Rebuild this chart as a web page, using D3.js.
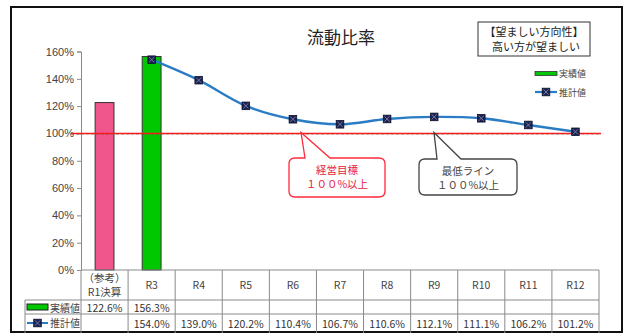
<!DOCTYPE html>
<html>
<head>
<meta charset="utf-8">
<script src="https://cdn.jsdelivr.net/npm/d3@7"></script>
<style>
  html, body { margin: 0; padding: 0; background: #fff; }
  svg { display: block; font-family: "Noto Sans CJK JP", "Noto Sans", sans-serif; }
</style>
</head>
<body>
<svg id="chart" width="629" height="334"></svg>
<script>
// 流動比率：実績値と推計値
const categories = ["（参考）\nR1決算", "R3", "R4", "R5", "R6", "R7", "R8", "R9", "R10", "R11", "R12"];
const actualValues = [122.6, 156.3, null, null, null, null, null, null, null, null, null];
const estimateValues = [null, 154.0, 139.0, 120.2, 110.4, 106.7, 110.6, 112.1, 111.1, 106.2, 101.2];
const actualColors = ["#f0568c", "#00c800"];
const yTicks = [0, 20, 40, 60, 80, 100, 120, 140, 160];
const targetValue = 100;
const seriesNames = ["実績値", "推計値"];

const svg = d3.select("#chart");

// outer frame
svg.append("rect")
  .attr("x", 11).attr("y", 7).attr("width", 611).attr("height", 325)
  .attr("fill", "#fff").attr("stroke", "#111").attr("stroke-width", 2);

const plotLeft = 81, plotRight = 599, plotTop = 51.5, plotBottom = 270;

const x = d3.scaleBand().domain(categories).range([plotLeft, plotRight]).paddingInner(0).paddingOuter(0);
const y = d3.scaleLinear().domain([0, 160]).range([plotBottom, plotTop]);

// y axis
const yAxis = d3.axisLeft(y).tickValues(yTicks).tickFormat(d => d + "%").tickSize(4).tickPadding(3);
const gy = svg.append("g").attr("transform", `translate(${plotLeft},0)`).call(yAxis);
gy.select(".domain").attr("stroke", "#8a8a8a");
gy.selectAll(".tick line").attr("stroke", "#8a8a8a");
gy.selectAll(".tick text").attr("fill", "#444").attr("font-size", 11)
  .attr("font-family", "Arial, 'Liberation Sans', sans-serif");

// bars (実績値)
const barW = x.bandwidth() * 0.4;
svg.append("g").selectAll("rect")
  .data(categories.map((c, i) => ({ c, v: actualValues[i], i })).filter(d => d.v != null))
  .join("rect")
  .attr("x", d => x(d.c) + (x.bandwidth() - barW) / 2)
  .attr("y", d => y(d.v))
  .attr("width", barW)
  .attr("height", d => y(0) - y(d.v))
  .attr("fill", d => actualColors[d.i])
  .attr("stroke", "#333").attr("stroke-width", 1);

// target line
svg.append("line")
  .attr("x1", plotLeft - 10).attr("x2", plotRight + 2)
  .attr("y1", y(targetValue)).attr("y2", y(targetValue))
  .attr("stroke", "#ff1a1a").attr("stroke-width", 1.6);
svg.append("line")
  .attr("x1", plotLeft - 10).attr("x2", plotRight + 2)
  .attr("y1", y(targetValue) + 0.8).attr("y2", y(targetValue) + 0.8)
  .attr("stroke", "#555").attr("stroke-width", 0.6).attr("stroke-dasharray", "3,2").attr("opacity", 0.6);

// estimate line (推計値)
const estPts = categories.map((c, i) => ({ c, v: estimateValues[i] })).filter(d => d.v != null);
const line = d3.line().x(d => x(d.c) + x.bandwidth() / 2).y(d => y(d.v)).curve(d3.curveCatmullRom.alpha(0.5));
svg.append("path").datum(estPts)
  .attr("d", line).attr("fill", "none")
  .attr("stroke", "#2a7cc4").attr("stroke-width", 2.4);

function marker(g, cx, cy) {
  const s = 3.8;
  g.append("rect").attr("x", cx - s).attr("y", cy - s).attr("width", 2 * s).attr("height", 2 * s)
    .attr("fill", "#1c2350").attr("stroke", "#0d1230").attr("stroke-width", 0.8);
  g.append("path").attr("d", `M${cx - s + 1.2},${cy - s + 1.2}L${cx + s - 1.2},${cy + s - 1.2}M${cx + s - 1.2},${cy - s + 1.2}L${cx - s + 1.2},${cy + s - 1.2}`)
    .attr("stroke", "#7a80a8").attr("stroke-width", 0.9);
}
const mg = svg.append("g");
estPts.forEach(d => marker(mg, x(d.c) + x.bandwidth() / 2, y(d.v)));

// title
svg.append("text").attr("x", 341).attr("y", 44).attr("text-anchor", "middle")
  .attr("font-size", 17).attr("fill", "#222").text("流動比率");

// direction box
svg.append("rect").attr("x", 478).attr("y", 22).attr("width", 112).attr("height", 34)
  .attr("fill", "#fff").attr("stroke", "#333").attr("stroke-width", 1);
svg.append("text").attr("x", 534).attr("y", 36).attr("text-anchor", "middle")
  .attr("font-size", 11).attr("fill", "#222").text("【望ましい方向性】");
svg.append("text").attr("x", 536).attr("y", 51).attr("text-anchor", "middle")
  .attr("font-size", 11).attr("fill", "#222").text("高い方が望ましい");

// legend
const lg = svg.append("g").attr("font-size", 9).attr("fill", "#444");
lg.append("rect").attr("x", 535).attr("y", 71.5).attr("width", 22).attr("height", 4)
  .attr("fill", actualColors[1]).attr("stroke", "#333").attr("stroke-width", 0.8);
lg.append("text").attr("x", 559).attr("y", 77).text(seriesNames[0]);
lg.append("line").attr("x1", 535).attr("x2", 557).attr("y1", 92).attr("y2", 92)
  .attr("stroke", "#2a7cc4").attr("stroke-width", 2.2);
marker(lg, 546, 92);
lg.append("text").attr("x", 559).attr("y", 95.5).text(seriesNames[1]);

// callouts
function callout(bx, by, bw, bh, tipX, baseL, baseR, color, textColor, lines) {
  const r = 6, tipY = y(targetValue) - 1;
  const p = d3.path();
  p.moveTo(bx + r, by);
  p.lineTo(baseL, by);
  p.lineTo(tipX, tipY);
  p.lineTo(baseR, by);
  p.lineTo(bx + bw - r, by);
  p.quadraticCurveTo(bx + bw, by, bx + bw, by + r);
  p.lineTo(bx + bw, by + bh - r);
  p.quadraticCurveTo(bx + bw, by + bh, bx + bw - r, by + bh);
  p.lineTo(bx + r, by + bh);
  p.quadraticCurveTo(bx, by + bh, bx, by + bh - r);
  p.lineTo(bx, by + r);
  p.quadraticCurveTo(bx, by, bx + r, by);
  p.closePath();
  svg.append("path").attr("d", p.toString()).attr("fill", "#fff")
    .attr("stroke", color).attr("stroke-width", 1.3);
  lines.forEach((t, i) => {
    svg.append("text").attr("x", bx + bw / 2).attr("y", by + 16 + i * 14)
      .attr("text-anchor", "middle").attr("font-size", 10.5).attr("fill", textColor).text(t);
  });
}
callout(289, 158, 96, 39, 301, 305, 330, "#ff2a3a", "#e8203a", ["経営目標", "１００%以上"]);
callout(419, 159, 98, 36, 434, 437, 461, "#444", "#444", ["最低ライン", "１００%以上"]);

// data table
const rowH = [270, 300, 314, 333];
const tg = svg.append("g");
const gridColor = "#8a8a8a";
tg.append("line").attr("x1", plotLeft).attr("x2", plotRight).attr("y1", rowH[0]).attr("y2", rowH[0]).attr("stroke", gridColor);
[rowH[1], rowH[2]].forEach(yy => {
  tg.append("line").attr("x1", 25).attr("x2", plotRight).attr("y1", yy).attr("y2", yy).attr("stroke", gridColor);
});
categories.forEach(c => {
  tg.append("line").attr("x1", x(c)).attr("x2", x(c)).attr("y1", rowH[0]).attr("y2", rowH[3]).attr("stroke", gridColor);
});
tg.append("line").attr("x1", plotRight).attr("x2", plotRight).attr("y1", rowH[0]).attr("y2", rowH[3]).attr("stroke", gridColor);
tg.append("line").attr("x1", 25).attr("x2", 25).attr("y1", rowH[1]).attr("y2", rowH[3]).attr("stroke", gridColor);

// header labels
categories.forEach(c => {
  const parts = c.split("\n");
  const cx = x(c) + x.bandwidth() / 2;
  parts.forEach((t, i) => {
    tg.append("text").attr("x", cx)
      .attr("y", parts.length === 1 ? 289 : 282 + i * 14)
      .attr("text-anchor", "middle").attr("font-size", 10.5).attr("fill", "#444").text(t);
  });
});
// row legend keys
tg.append("rect").attr("x", 27).attr("y", 304).attr("width", 21).attr("height", 6)
  .attr("fill", actualColors[1]).attr("stroke", "#222").attr("stroke-width", 1);
tg.append("text").attr("x", 50).attr("y", 311.5).attr("font-size", 10).attr("fill", "#444").text(seriesNames[0]);
tg.append("line").attr("x1", 27).attr("x2", 48).attr("y1", 323).attr("y2", 323)
  .attr("stroke", "#2a7cc4").attr("stroke-width", 2);
marker(tg, 37.5, 323);
tg.append("text").attr("x", 50).attr("y", 327).attr("font-size", 10).attr("fill", "#444").text(seriesNames[1]);

// row values
const fmt = v => v == null ? "" : v.toFixed(1) + "%";
categories.forEach((c, i) => {
  const cx = x(c) + x.bandwidth() / 2;
  tg.append("text").attr("x", cx).attr("y", 311.5).attr("text-anchor", "middle")
    .attr("font-size", 10.5).attr("fill", "#333").text(fmt(actualValues[i]));
  tg.append("text").attr("x", cx).attr("y", 327.5).attr("text-anchor", "middle")
    .attr("font-size", 10.5).attr("fill", "#333").text(fmt(estimateValues[i]));
});
</script>
</body>
</html>
